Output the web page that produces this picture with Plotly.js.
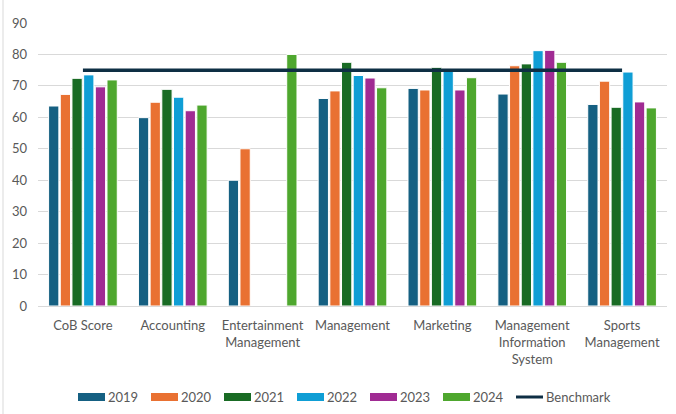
<!DOCTYPE html>
<html>
<head>
<meta charset="utf-8">
<script src="https://cdn.plot.ly/plotly-3.0.1.min.js"></script>
<style>html,body{margin:0;padding:0;background:#fff;}#chart{width:676px;height:414px;}</style>
</head>
<body>
<div id="chart"></div>
<script>
const categories = ["CoB Score", "Accounting", "Entertainment<br>Management", "Management", "Marketing", "Management<br>Information<br>System", "Sports<br>Management"];
const seriesNames = ["2019", "2020", "2021", "2022", "2023", "2024"];
const v2019 = [63.6, 59.9, 40, 66.0, 69.2, 67.4, 64.1];
const v2020 = [67.3, 64.8, 50, 68.4, 68.7, 76.4, 71.5];
const v2021 = [72.4, 68.9, null, 77.5, 75.9, 77.0, 63.2];
const v2022 = [73.5, 66.4, null, 73.3, 75.0, 81.2, 74.4];
const v2023 = [69.7, 62.1, null, 72.5, 68.7, 81.3, 64.9];
const v2024 = [71.9, 63.9, 80, 69.4, 72.6, 77.5, 63.0];
const benchmarkName = "Benchmark";
const benchmark = [75, 75, 75, 75, 75, 75, 75];
const colors = ["#156082", "#E97132", "#196B24", "#0F9ED5", "#A02B93", "#4EA72E"];
const benchColor = "#0E2F44";

const allVals = [v2019, v2020, v2021, v2022, v2023, v2024];
const FONT = "Lato, 'Liberation Sans', sans-serif";
const TXT = "#595959";

const traces = allVals.map((vals, i) => ({
  type: "bar",
  name: seriesNames[i],
  x: categories,
  y: vals,
  marker: {color: colors[i], line: {color: "#ffffff", width: 1}},
  showlegend: false
}));
traces.push({
  type: "scatter",
  mode: "lines",
  name: benchmarkName,
  x: categories,
  y: benchmark,
  line: {color: benchColor, width: 3.5},
  showlegend: false
});

// custom legend (pixel layout converted to paper coords)
const plotL = 38, plotW = 629, plotB = 306, plotH = 283;
const px = p => (p - plotL) / plotW;
const py = p => (plotB - p) / plotH;
const legY = 397, swW = 27, swH = 8, legStart = 78, legStep = 73;
const shapes = [{
  type: "line", xref: "paper", yref: "paper",
  x0: px(3), x1: px(3), y0: py(420), y1: py(-5),
  line: {color: "#D9D9D9", width: 1}
}];
const annotations = [];
seriesNames.forEach((nm, i) => {
  const x0 = legStart + i * legStep;
  shapes.push({
    type: "rect", xref: "paper", yref: "paper",
    x0: px(x0), x1: px(x0 + swW), y0: py(legY + swH / 2), y1: py(legY - swH / 2),
    fillcolor: colors[i], line: {width: 0}
  });
  annotations.push({
    xref: "paper", yref: "paper", x: px(x0 + swW + 1), y: py(legY),
    xanchor: "left", yanchor: "middle", showarrow: false, text: nm,
    font: {family: FONT, size: 13, color: TXT}
  });
});
{
  const x0 = legStart + 6 * legStep;
  shapes.push({
    type: "line", xref: "paper", yref: "paper",
    x0: px(x0), x1: px(x0 + swW), y0: py(legY), y1: py(legY),
    line: {color: benchColor, width: 3}
  });
  annotations.push({
    xref: "paper", yref: "paper", x: px(x0 + swW + 1), y: py(legY),
    xanchor: "left", yanchor: "middle", showarrow: false, text: benchmarkName,
    font: {family: FONT, size: 13, color: TXT}
  });
}

const layout = {
  width: 676,
  height: 414,
  margin: {l: plotL, r: 676 - plotL - plotW, t: 23, b: 414 - plotB},
  paper_bgcolor: "#ffffff",
  plot_bgcolor: "#ffffff",
  font: {family: FONT, size: 13, color: TXT},
  barmode: "group",
  bargap: 0.22,
  bargroupgap: 0.12,
  showlegend: false,
  xaxis: {
    type: "category",
    automargin: false,
    showgrid: false,
    showline: false,
    ticks: "",
    tickangle: 0,
    ticklabelstandoff: 10,
    tickfont: {family: FONT, size: 13, color: TXT}
  },
  yaxis: {
    automargin: false,
    range: [0, 90],
    dtick: 10,
    tick0: 0,
    showgrid: true,
    gridcolor: "#D9D9D9",
    gridwidth: 1,
    zeroline: true,
    zerolinecolor: "#D9D9D9",
    zerolinewidth: 1,
    showline: false,
    ticks: "",
    ticklabelstandoff: 10,
    tickfont: {family: FONT, size: 13, color: TXT}
  },
  shapes: shapes,
  annotations: annotations
};

Plotly.newPlot("chart", traces, layout, {displayModeBar: false, staticPlot: true});
</script>
</body>
</html>
